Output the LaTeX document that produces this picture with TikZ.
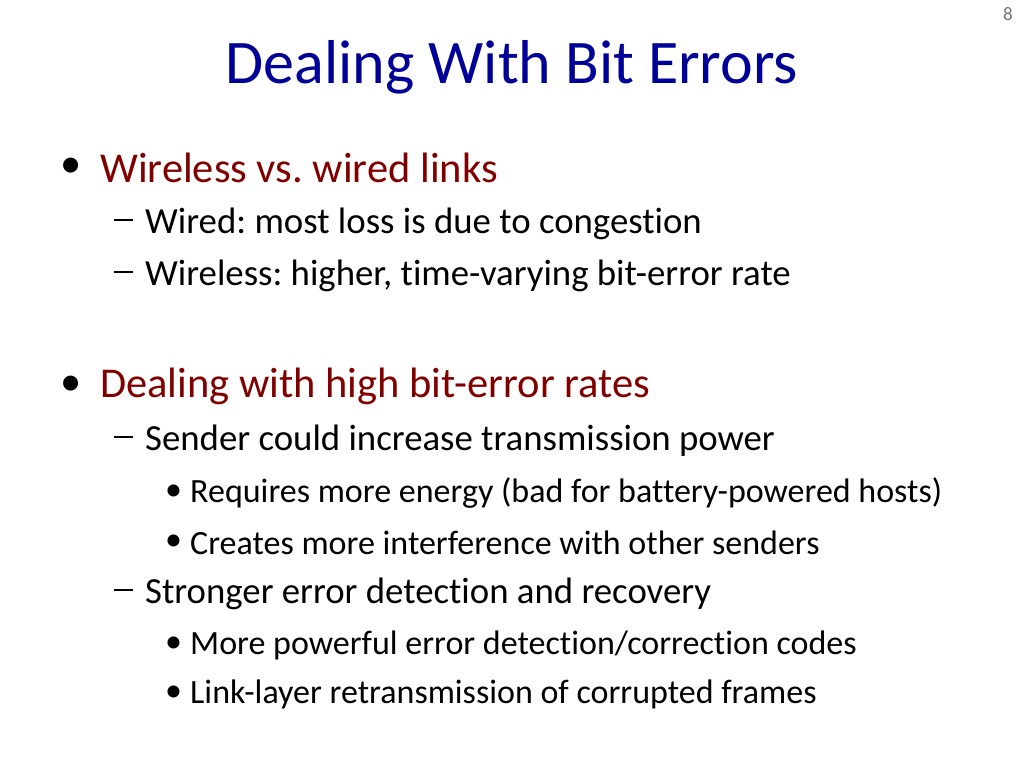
\documentclass[tikz,border=0pt]{standalone}
\usepackage{fontspec}
\setmainfont[Ligatures=NoCommon]{Carlito}
\definecolor{ttl}{RGB}{0,0,150}
\definecolor{red1}{RGB}{128,0,0}
\newcommand{\mydash}{\rule[0.22em]{0.5em}{0.06em}}
\newcommand{\mybul}{•}
\begin{document}
\frenchspacing
\begin{tikzpicture}[x=1pt,y=-1pt,
  every node/.style={inner sep=0pt,anchor=west},
  l1/.style={font=\fontsize{42.5}{46}\selectfont,text=red1},
  l2/.style={font=\fontsize{36.8}{40}\selectfont},
  l3/.style={font=\fontsize{34}{38}\selectfont}]
\useasboundingbox (0,0) rectangle (1024,768);
\node[anchor=center,font=\fontsize{19}{21}\selectfont,text=black!55] (pg) at (1008,14) {8};
\node[anchor=center,font=\fontsize{62}{66}\selectfont,text=ttl] (title) at (512,67) {Dealing With Bit Errors};
\node[l1,text=black] (b1) at (60,168) {\mybul};
\node[l1] (t1) at (100,168) {Wireless vs. wired links};
\node[l2] (d1) at (114,224) {\mydash};
\node[l2] (t2) at (145,224) {Wired: most loss is due to congestion};
\node[l2] (d2) at (114,276) {\mydash};
\node[l2] (t3) at (145,276) {Wireless: higher, time-varying bit-error rate};
\node[l1,text=black] (b2) at (60,386) {\mybul};
\node[l1] (t4) at (100,386) {Dealing with high bit-error rates};
\node[l2] (d3) at (114,441) {\mydash};
\node[l2] (t5) at (145,441) {Sender could increase transmission power};
\node[l3] (e1) at (165,493) {\mybul};
\node[l3] (t6) at (190,493) {Requires more energy (bad for battery-powered hosts)};
\node[l3] (e2) at (165,543) {\mybul};
\node[l3] (t7) at (190,543) {Creates more interference with other senders};
\node[l2] (d4) at (114,594) {\mydash};
\node[l2] (t8) at (145,594) {Stronger error detection and recovery};
\node[l3] (e3) at (165,645) {\mybul};
\node[l3] (t9) at (190,645) {More powerful error detection/correction codes};
\node[l3] (e4) at (165,694) {\mybul};
\node[l3] (t10) at (190,694) {Link-layer retransmission of corrupted frames};
\end{tikzpicture}
\end{document}
